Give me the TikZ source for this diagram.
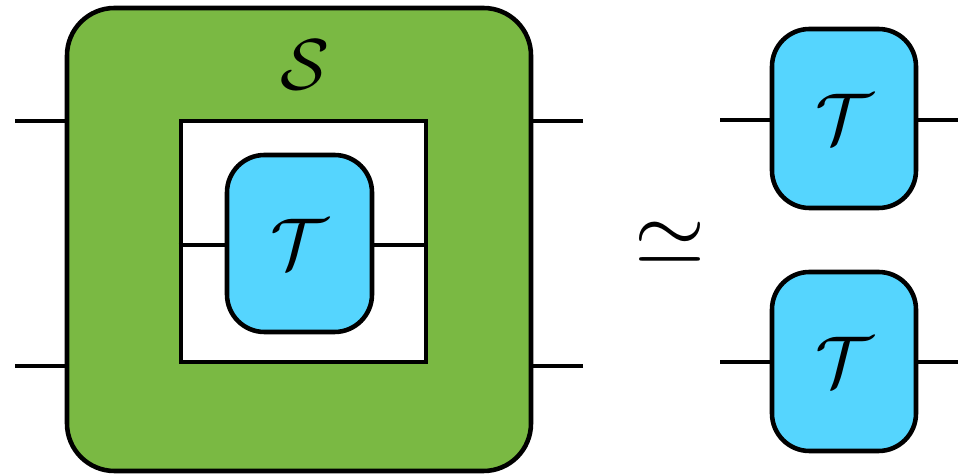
\documentclass[tikz,border=0pt]{standalone}
\usepackage{amsmath, amssymb}
\usepackage{tikz}
\usetikzlibrary{positioning, calc}
\definecolor{combgreen}{HTML}{7AB943}
\definecolor{chanblue}{HTML}{55D5FE}

\begin{document}
\begin{tikzpicture}[line width=2.6pt, biglabel/.style={scale=4.1}]
    \useasboundingbox (0, 0) rectangle (19.16, -9.48);

    % Outer comb S
    \node[draw, fill=combgreen, rounded corners=0.95cm,
          minimum width=9.28cm, minimum height=9.26cm] (S) at (5.98, -4.79) {};
    \node[biglabel] (Slabel) at (6.1, -1.3) {$\mathcal{S}$};

    % Hole of the comb
    \node[draw, fill=white, minimum width=4.9cm, minimum height=4.82cm] (hole) at (6.07, -4.83) {};

    % Inner channel T
    \node[draw, fill=chanblue, rounded corners=0.75cm,
          minimum width=2.9cm, minimum height=3.54cm] (Tin) at (5.99, -4.87) {};
    \node[biglabel] (Tinlabel) at (Tin) {$\mathcal{T}$};

    % Wires of S
    \coordinate (inA) at (0.3, -2.42);
    \coordinate (inB) at (0.3, -7.32);
    \coordinate (outA) at (11.66, -2.42);
    \coordinate (outB) at (11.66, -7.32);
    \draw (inA) -- (inA -| S.west);
    \draw (inB) -- (inB -| S.west);
    \draw (outA) -- (outA -| S.east);
    \draw (outB) -- (outB -| S.east);

    % Wires of inner T
    \draw (hole.west |- 0, -4.9) -- (Tin.west |- 0, -4.9);
    \draw (Tin.east |- 0, -4.9) -- (hole.east |- 0, -4.9);

    % Equivalence
    \node[scale=5.2] (eq) at (13.4, -4.86) {$\simeq$};

    % Two copies of T
    \node[draw, fill=chanblue, rounded corners=0.75cm,
          minimum width=2.88cm, minimum height=3.58cm] (T1) at (16.88, -2.37) {};
    \node[biglabel] (T1label) at (T1) {$\mathcal{T}$};
    \node[draw, fill=chanblue, rounded corners=0.75cm,
          minimum width=2.88cm, minimum height=3.58cm] (T2) at (16.88, -7.23) {};
    \node[biglabel] (T2label) at (T2) {$\mathcal{T}$};

    \coordinate (T1in) at (14.4, -2.4);
    \coordinate (T1out) at (19.16, -2.4);
    \coordinate (T2in) at (14.4, -7.24);
    \coordinate (T2out) at (19.16, -7.24);
    \draw (T1in) -- (T1in -| T1.west);
    \draw (T1.east |- T1out) -- (T1out);
    \draw (T2in) -- (T2in -| T2.west);
    \draw (T2.east |- T2out) -- (T2out);

\end{tikzpicture}
\end{document}
